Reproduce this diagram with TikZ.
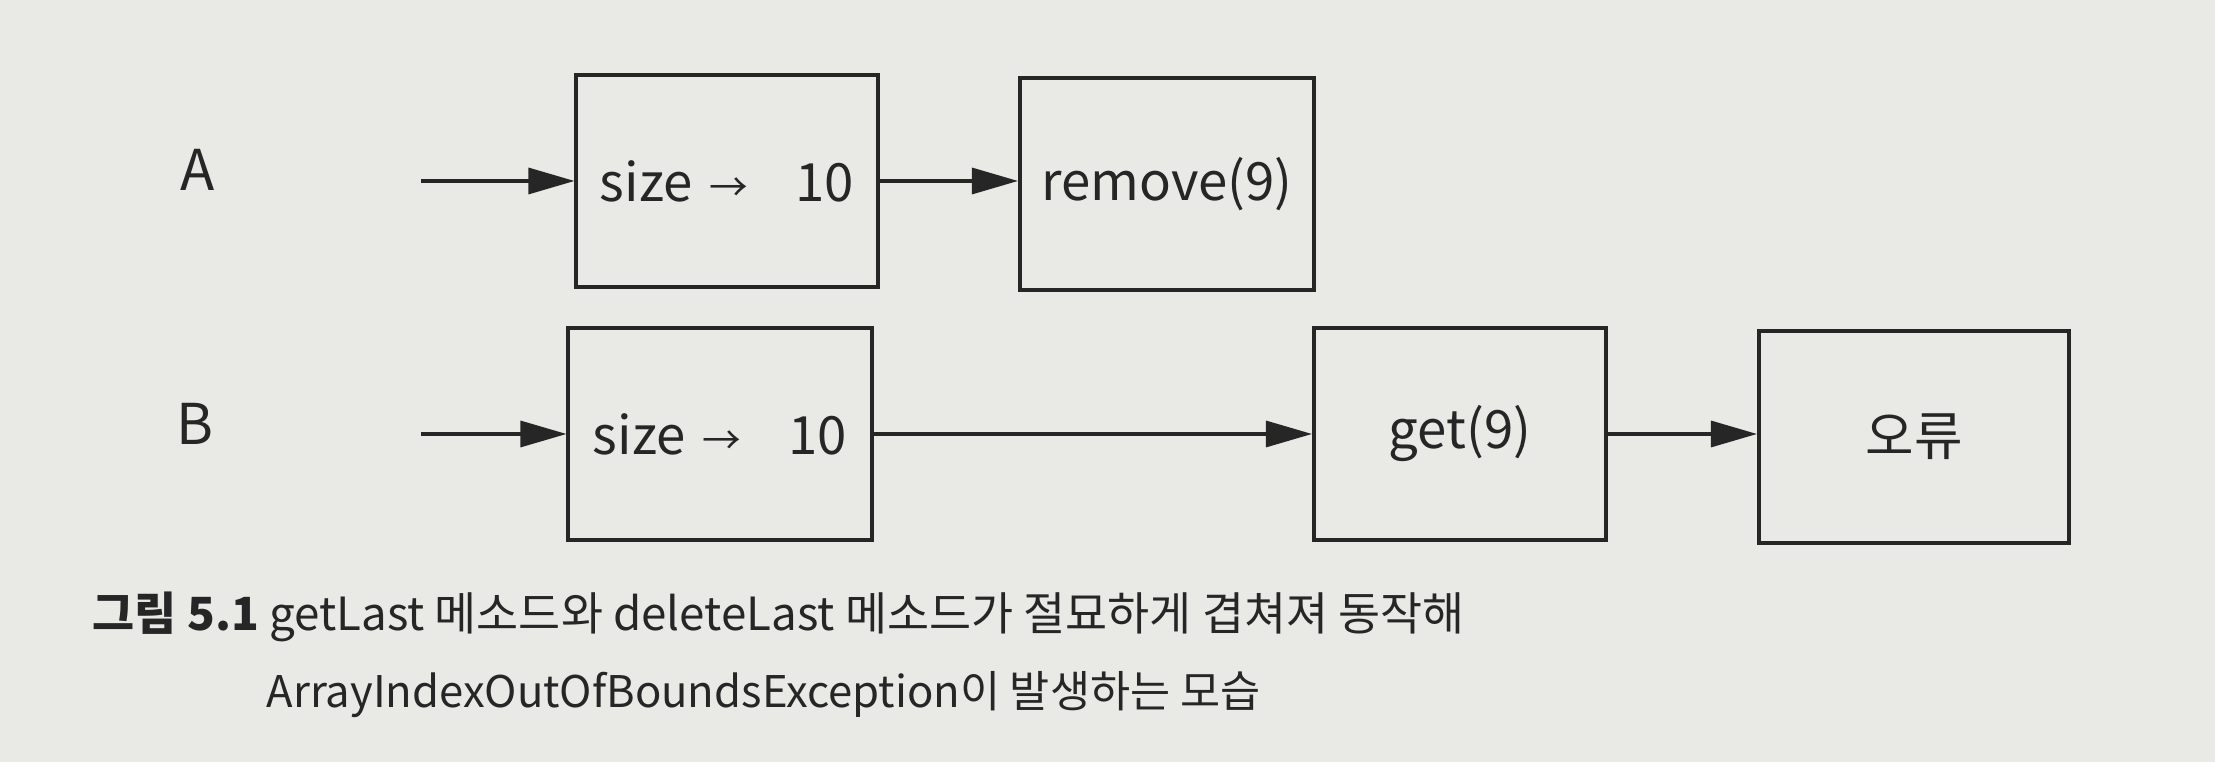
\documentclass[tikz,border=0pt]{standalone}
\usepackage{fontspec}
\setmainfont{Noto Sans CJK KR}
\usetikzlibrary{arrows.meta}
\definecolor{paper}{RGB}{233,233,230}
\definecolor{ink}{RGB}{38,38,38}
\newcommand{\sizeto}{size\hspace{0.17cm}{\fontsize{11}{12}\selectfont →}\hspace{0.47cm}10}

\begin{document}
\begin{tikzpicture}[x=0.01cm,y=-0.01cm,
    box/.style={draw=ink,line width=1.1pt,minimum height=2.12cm,inner sep=0pt,
      text=ink,font=\fontsize{15}{18}\selectfont},
    flow/.style={draw=ink,line width=0.9pt,-{Triangle[length=0.46cm,width=0.26cm]}}]
  \fill[paper] (0,0) rectangle (2215,762);
  \useasboundingbox (0,0) rectangle (2215,762);
   \coordinate (Astart) at (421,181);
   \coordinate (Bstart) at (421,434);
  \node[text=ink,font=\fontsize{16}{18}\selectfont] (labA) at (198,170) {A};
  \node[text=ink,font=\fontsize{16}{18}\selectfont] (labB) at (195,424) {B};
  % first thread
  \node[box,minimum width=3.01cm] (Asize) at (727,181) {\sizeto};
  \node[box,minimum width=2.94cm] (Aremove) at (1167,184) {remove(9)};
  % second thread
  \node[box,minimum width=3.03cm] (Bsize) at (720,434) {\sizeto};
  \node[box,minimum width=2.92cm] (Bget) at (1460,434) {get(9)};
  \node[box,minimum width=3.10cm] (Berror) at (1914,437) {오류};
  \draw[flow] (Astart) -- (Asize);
  \draw[flow] (Asize) -- (Asize.east -| Aremove.west);
  \draw[flow] (Bstart) -- (Bsize);
  \draw[flow] (Bsize) -- (Bget);
  \draw[flow] (Bget) -- (Bget.east -| Berror.west);
  % caption
  \node[anchor=west,text=ink,inner sep=0pt,font=\fontsize{13}{14}\selectfont] (cap1) at (92,617)
    {\textbf{그림 5.1} getLast 메소드와 deleteLast 메소드가 절묘하게 겹쳐져 동작해};
  \node[anchor=west,text=ink,inner sep=0pt,font=\fontsize{12.4}{14}\selectfont] (cap2) at (266,695)
    {ArrayIndexOutOfBoundsException이 발생하는 모습};
\end{tikzpicture}
\end{document}
